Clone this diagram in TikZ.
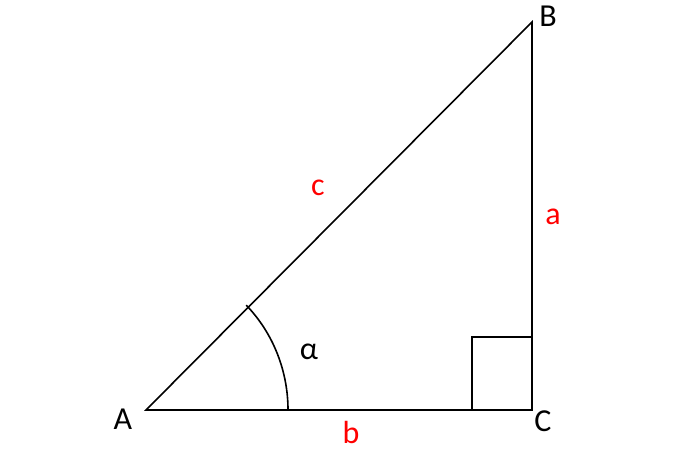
\documentclass[tikz,border=0pt]{standalone}
\usepackage{fontspec}
\setmainfont{Carlito}
\usepackage{tikz}

\begin{document}
\begin{tikzpicture}[x=1pt,y=-1pt,line width=1.6pt,
  every node/.style={font=\fontsize{32}{36}\selectfont,inner sep=0pt},
  side/.style={text=red}]
	\useasboundingbox (0,0) rectangle (700,450);
	\coordinate (A) at (146,410);
	\coordinate (B) at (532,22);
	\coordinate (C) at (532,410);
	\draw (A) -- (B) -- (C) -- cycle;
	\draw (472,410) -- (472,337) -- (532,337);
	\draw ([shift={(0:142)}]A) arc[start angle=0,end angle=-45.1,x radius=142,y radius=148];
	\node (lA) at (123,419) {A};
	\node (lB) at (548,16) {B};
	\node (lC) at (543,421) {C};
	\node[side] (la) at (553,217) {a};
	\node[side] (lb) at (351,432) {b};
	\node[side] (lc) at (318,188) {c};
	\node (alpha) at (309,352) {α};
\end{tikzpicture}
\end{document}
